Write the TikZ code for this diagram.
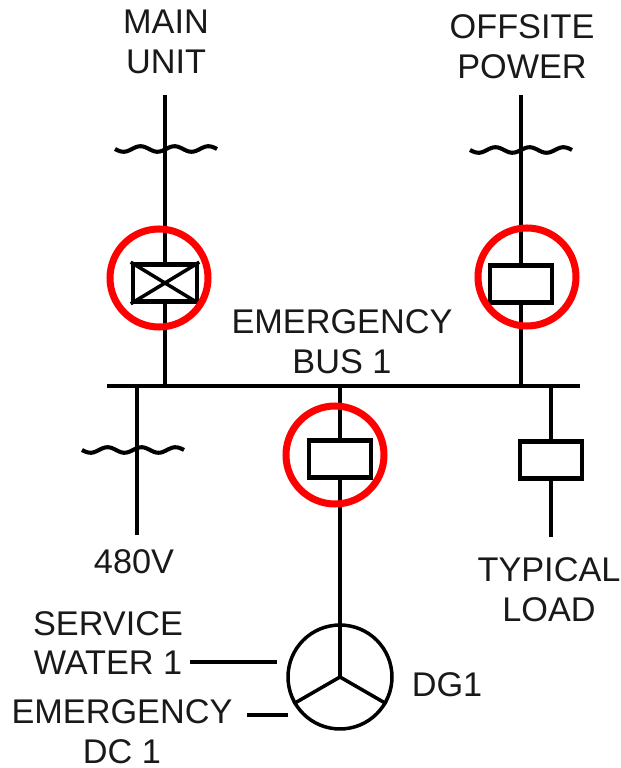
\documentclass[tikz,border=0pt]{standalone}
\usepackage{fontspec}
\setmainfont{Liberation Sans}
\tikzset{
    wire/.style={line width=2.3pt},
    thinwire/.style={line width=2pt},
    breaker/.style={draw, line width=2.6pt, rectangle, fill=white, minimum width=1.24cm, minimum height=0.74cm, inner sep=0pt},
    ring/.style={draw=red, line width=4pt, circle, minimum size=1.96cm, inner sep=0pt},
    label/.style={font=\fontsize{19.5}{22.7}\selectfont, align=center, inner sep=0pt, text=black!90}
}
\newcommand{\wavemark}[2]{\draw[wire] plot[domain=-51:51, samples=45, smooth] ({#1+\x}, {#2+2.8*sin(\x/34*360)});}
\begin{document}
\begin{tikzpicture}[x=0.02cm, y=0.02cm]
    \useasboundingbox (0, 0) rectangle (621, 768);
    % bus
    \draw[wire] (107, 382) coordinate(busl) -- (580, 382) coordinate(busr);
    \coordinate (busmain) at (165, 382);
    \coordinate (busoff) at (521, 382);
    \coordinate (buslv) at (137, 382);
    \coordinate (busdg) at (340, 382);
    \coordinate (busload) at (551, 382);
    % line ends
    \coordinate (maintop) at (165, 673);
    \coordinate (offtop) at (521, 673);
    \coordinate (lvend) at (137, 233);
    \coordinate (loadend) at (551, 231);
    % breakers
    \node[breaker, minimum width=1.28cm] (mainbrk) at (165, 485) {};
    \node[breaker] (offbrk) at (521, 484) {};
    \node[breaker] (dgbrk) at (340, 309) {};
    \node[breaker] (loadbrk) at (551, 308) {};
    \node[draw, thinwire, circle, minimum size=2.08cm, inner sep=0pt] (dg) at (340, 91) {};
    \draw[wire] (maintop) -- (mainbrk) -- (busmain);
    \draw[wire] (offtop) -- (offbrk) -- (busoff);
    \draw[wire] (buslv) -- (lvend);
    \draw[wire] (busdg) -- (dgbrk) -- (dg.center);
    \draw[wire] (busload) -- (loadbrk) -- (loadend);
    \draw[thinwire] (mainbrk.north west) -- (mainbrk.south east);
    \draw[thinwire] (mainbrk.north east) -- (mainbrk.south west);
    \draw[thinwire] (dg.center) -- (dg.210);
    \draw[thinwire] (dg.center) -- (dg.330);
    % wavy marks
    \wavemark{166}{619}
    \wavemark{521}{618}
    \wavemark{133}{318}
    % labels
    \node[label] (mainlbl) at (166, 726) {MAIN\\UNIT};
    \node[label] (offlbl) at (522, 721) {OFFSITE\\POWER};
    \node[label] (buslbl) at (342, 426) {EMERGENCY\\BUS 1};
    \node[label] (lvlbl) at (134, 206) {480V};
    \node[label] (loadlbl) at (549, 178) {TYPICAL\\LOAD};
    \node[label] (swlbl) at (108, 125) {SERVICE\\WATER 1};
    \node[label] (dclbl) at (122, 36) {EMERGENCY\\DC 1};
    \node[label] (dglbl) at (447, 83) {DG1};
    \coordinate (swend) at (190, 106);
    \coordinate (dcend) at (247, 53);
    \draw[thinwire] (swend) -- (277, 106);
    \draw[thinwire] (dcend) -- (288, 53);
    % red marks
    \node[ring] (mainring) at (159, 490) {};
    \node[ring] (offring) at (527, 491) {};
    \node[ring] (dgring) at (335, 313) {};
\end{tikzpicture}
\end{document}
